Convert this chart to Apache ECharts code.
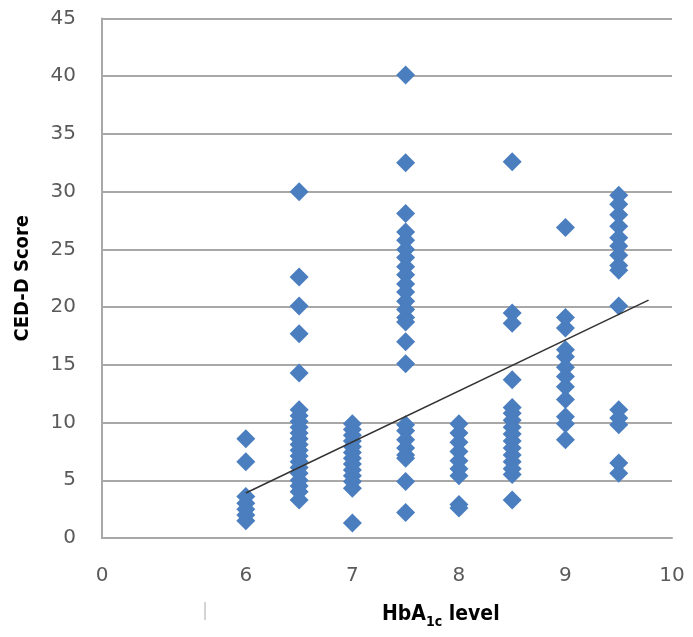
<!DOCTYPE html>
<html>
<head>
<meta charset="utf-8">
<script src="https://cdn.jsdelivr.net/npm/echarts@6/dist/echarts.min.js"></script>
<style>
  html, body { margin: 0; padding: 0; background: #fff; }
  #chart { width: 693px; height: 637px; }
</style>
</head>
<body>
<div id="chart"></div>
<script>
// HbA1c groups and CED-D scores
const xTicks = [4.65, 6, 7, 8, 9, 10]
const yTicks = [0, 5, 10, 15, 20, 25, 30, 35, 40, 45]
const hba6 = [8.6, 6.6, 3.6, 3.0, 2.5, 2.0, 1.5]
const hba65 = [30.0, 22.6, 20.1, 17.7, 14.3, 11.1, 10.6, 10.1, 9.6, 9.1, 8.6, 8.1, 7.6, 7.1, 6.6, 6.1, 5.6, 5.0, 4.5, 4.0, 3.3]
const hba7 = [9.9, 9.4, 8.9, 8.4, 7.9, 7.4, 6.9, 6.4, 5.9, 5.4, 4.9, 4.3, 1.3]
const hba75 = [40.1, 32.5, 28.1, 26.5, 25.8, 25.0, 24.3, 23.5, 22.8, 22.0, 21.3, 20.5, 19.8, 19.1, 18.7, 17.0, 15.1, 9.8, 9.3, 8.5, 7.8, 7.2, 6.9, 4.9, 2.2]
const hba8 = [9.9, 9.1, 8.3, 7.5, 6.7, 6.0, 5.4, 2.9, 2.6]
const hba85 = [32.6, 19.5, 18.6, 13.7, 11.3, 10.8, 10.2, 9.6, 9.0, 8.4, 7.8, 7.2, 6.6, 6.0, 5.5, 3.3]
const hba9 = [26.9, 19.1, 18.2, 16.3, 15.7, 14.8, 14.0, 13.1, 12.0, 10.5, 9.9, 8.5]
const hba95 = [29.7, 28.9, 28.0, 27.0, 26.0, 25.3, 24.5, 23.6, 23.2, 20.1, 11.1, 10.4, 9.8, 6.5, 5.6]
const trend = [[6, 3.9], [9.78, 20.6]]

const groups = [[6, hba6], [6.5, hba65], [7, hba7], [7.5, hba75], [8, hba8], [8.5, hba85], [9, hba9], [9.5, hba95]]
const points = []
groups.forEach(function (g) {
  g[1].forEach(function (v) { points.push([g[0], v]) })
})

const titleFont = "'DejaVu Sans Condensed', 'Liberation Sans', sans-serif"
const myChart = echarts.init(document.getElementById('chart'))
const option = {
  animation: false,
  grid: { left: 102, right: 21, top: 18.5, bottom: 99 },
  title: {
    text: '{a|HbA}{b|1c}{a| level}',
    left: 377,
    top: 599,
    textStyle: {
      rich: {
        a: { fontFamily: titleFont, fontWeight: 'bold', fontSize: 21, color: '#000', verticalAlign: 'bottom' },
        b: { fontFamily: titleFont, fontWeight: 'bold', fontSize: 14, color: '#000', verticalAlign: 'bottom', padding: [0, 0, -4, 0] }
      }
    }
  },
  graphic: [{
    type: 'text', left: 202, top: 602,
    style: { text: '|', fontSize: 18, fontFamily: 'DejaVu Sans', fill: '#c8c8c8' }
  }],
  xAxis: {
    type: 'value',
    min: 4.65,
    max: 10,
    splitLine: { show: false },
    axisLine: { lineStyle: { color: '#a8a8a8', width: 2 } },
    axisTick: { show: false },
    axisLabel: {
      customValues: xTicks,
      margin: 28,
      fontFamily: 'DejaVu Sans',
      fontSize: 20,
      color: '#5a5a5a',
      formatter: function (v) { return v < 5 ? '0' : String(v) }
    }
  },
  yAxis: {
    type: 'value',
    min: 0,
    max: 45,
    interval: 5,
    name: 'CED-D Score',
    nameLocation: 'middle',
    nameRotate: 90,
    nameGap: 69,
    nameTextStyle: { fontFamily: titleFont, fontWeight: 'bold', fontSize: 20, color: '#000' },
    axisLine: { show: true, lineStyle: { color: '#a8a8a8', width: 2 } },
    axisTick: { show: false },
    splitLine: { lineStyle: { color: '#a8a8a8', width: 2 } },
    axisLabel: {
      margin: 26,
      fontFamily: 'DejaVu Sans',
      fontSize: 20,
      color: '#5a5a5a',
      formatter: function (v) { return yTicks.indexOf(v) >= 0 ? String(v) : '' }
    }
  },
  series: [
    {
      type: 'scatter',
      symbol: 'diamond',
      symbolSize: 19,
      itemStyle: { color: '#4a7ebf', opacity: 1 },
      data: points
    },
    {
      type: 'line',
      symbol: 'none',
      lineStyle: { color: '#333', width: 1.5 },
      data: trend
    }
  ]
}
myChart.setOption(option)
window.addEventListener('resize', function () {
  myChart.resize()
})
</script>
</body>
</html>
